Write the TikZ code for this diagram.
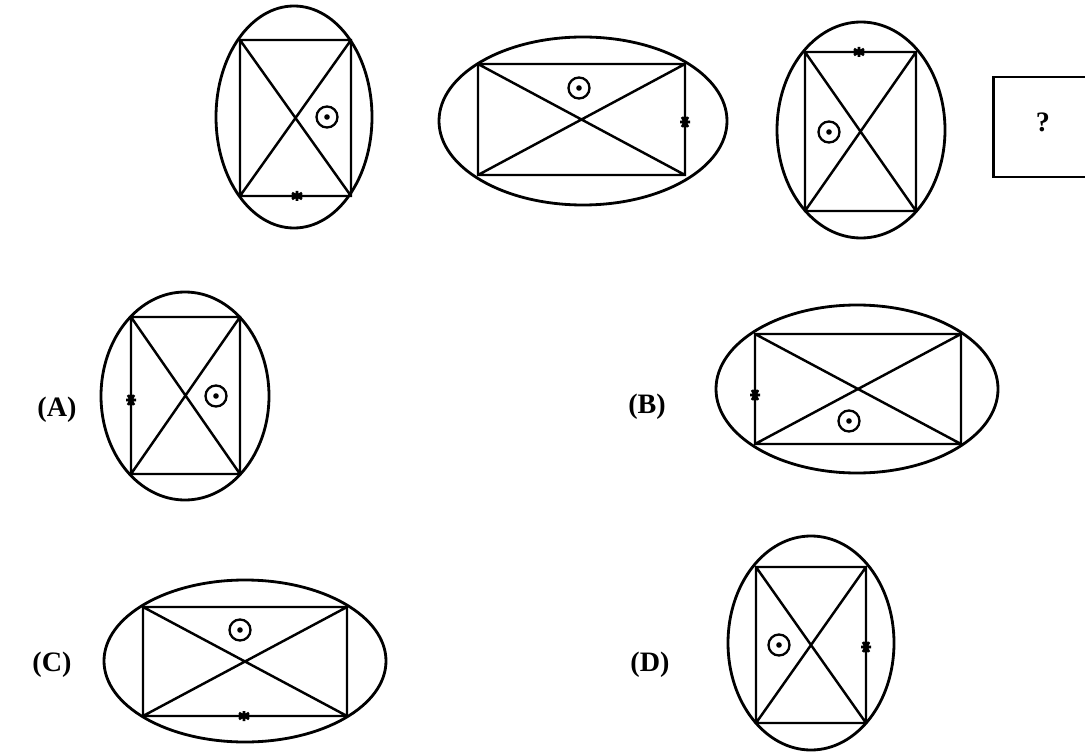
\documentclass[tikz,border=0pt]{standalone}
\usepackage{fontspec}
\setmainfont{Liberation Serif}
\usepackage{tikz}

\tikzset{
    ring/.pic={\draw[line width=1.3pt] (0,0) circle (10.5); \fill (0,0) circle (2.8);},
    spark/.pic={\draw[line width=1.6pt] (-5,-3) -- (5,3) (-5,3) -- (5,-3) (0,-5) -- (0,5);}
}

\begin{document}
\begin{tikzpicture}[x=0.02cm, y=-0.02cm,
    oval/.style={draw, line width=1.6pt},
    frame/.style={draw, line width=1.4pt},
    tag/.style={font=\fontsize{16}{18}\selectfont\bfseries, inner sep=0pt}]

    \useasboundingbox[fill=white] (0,0) rectangle (1085,753);

    % question row
    \draw[oval] (294,117) ellipse [x radius=78, y radius=111];
    \draw[frame] (240,40) rectangle (351,196) (240,40) -- (351,196) (351,40) -- (240,196);
    \pic at (327,117) {ring};
    \pic at (297,196) {spark};

    \draw[oval] (583,121) ellipse [x radius=144, y radius=84];
    \draw[frame] (478,64) rectangle (685,175) (478,64) -- (685,175) (685,64) -- (478,175);
    \pic at (579,88) {ring};
    \pic[rotate=90] at (685,122) {spark};

    \draw[oval] (861,130) ellipse [x radius=84, y radius=108];
    \draw[frame] (805,52) rectangle (916,211) (805,52) -- (916,211) (916,52) -- (805,211);
    \pic at (829,132) {ring};
    \pic[rotate=180] at (859,52) {spark};

    \draw[line width=1.7pt] (1085,77) -- (993,77) -- (993,177) -- (1085,177);
    \node[tag] (Q) at (1043,122) {?};

    % answer choices
    \node[tag] (A) at (57,410) {(A)};
    \draw[oval] (185,396) ellipse [x radius=84, y radius=104];
    \draw[frame] (131,317) rectangle (240,474) (131,317) -- (240,474) (240,317) -- (131,474);
    \pic at (216,396) {ring};
    \pic[rotate=90] at (131,400) {spark};

    \node[tag] (B) at (647,407) {(B)};
    \draw[oval] (857,389) ellipse [x radius=141, y radius=84];
    \draw[frame] (755,334) rectangle (961,444) (755,334) -- (961,444) (961,334) -- (755,444);
    \pic at (849,421) {ring};
    \pic[rotate=90] at (755,395) {spark};

    \node[tag] (C) at (52,665) {(C)};
    \draw[oval] (245,661) ellipse [x radius=141, y radius=81];
    \draw[frame] (143,607) rectangle (347,716) (143,607) -- (347,716) (347,607) -- (143,716);
    \pic at (240,630) {ring};
    \pic at (244,716) {spark};

    \node[tag] (D) at (650,665) {(D)};
    \draw[oval] (811,643) ellipse [x radius=83, y radius=107];
    \draw[frame] (756,567) rectangle (866,723) (756,567) -- (866,723) (866,567) -- (756,723);
    \pic at (779,645) {ring};
    \pic[rotate=90] at (866,647) {spark};
\end{tikzpicture}
\end{document}
